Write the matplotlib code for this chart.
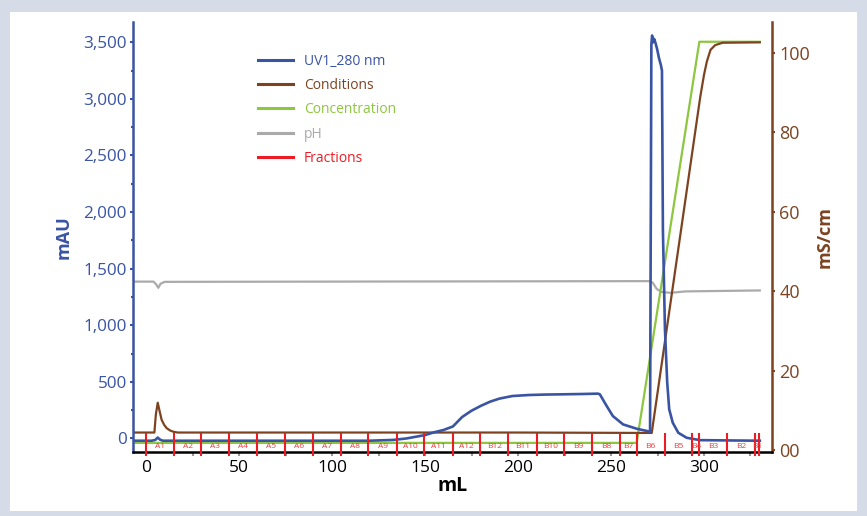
import numpy as np
import matplotlib
matplotlib.use("Agg")
import matplotlib.pyplot as plt
from matplotlib.lines import Line2D
from matplotlib.patches import Rectangle
from matplotlib.ticker import MultipleLocator, FuncFormatter, FixedLocator, FixedFormatter

plt.rcParams['font.family'] = ['Open Sans', 'DejaVu Sans']

# UV1_280 nm (mAU) vs volume (mL)
uv_ml = [-7, 3, 5, 6.3, 7.5, 9, 120, 133, 140, 150, 155, 160, 165, 170, 175, 180,
         185, 190, 197, 206, 215, 224, 235, 243, 244, 247.7, 251, 256.5, 263.8, 271.0,
         271.4, 271.7, 272.1, 272.6, 273.2, 274.0, 274.8, 275.8, 276.8, 277.4, 277.9,
         279.0, 280.2, 281.3, 283.2, 286.2, 290.7, 297.8, 330]
uv_mau = [-20, -20, -13, 8, -10, -20, -20, -13, 0, 30, 55, 75, 106, 190, 245, 288,
          325, 352, 375, 384, 388, 390, 393, 396, 390, 286, 198, 124, 86, 60,
          2000, 3480, 3560, 3500, 3530, 3490, 3440, 3360, 3300, 3250, 1850,
          966, 500, 257, 139, 50, 6, -15, -20]

# Conditions (mS/cm)
cond_ml = [-7, 4.5, 5.3, 6.3, 7.2, 8.4, 9.8, 11.1, 13, 14.7, 17, 100, 200, 264,
           271.9, 298, 300, 301.5, 303.5, 306, 310, 330]
cond_ms = [4.4, 4.4, 9, 11.9, 10, 7.6, 6.3, 5.5, 4.9, 4.6, 4.4, 4.4, 4.4, 4.3,
           4.3, 89, 94.5, 97.8, 100.8, 102, 102.6, 102.7]

# Concentration (%B)
conc_ml = [-7, 263.8, 297.5, 330]
conc_pct = [0, 0, 100, 100]

# pH
ph_ml = [-7, 4, 5.5, 6.6, 7.8, 10, 270.5, 272.5, 274.5, 277, 282, 290, 310, 330]
ph_val = [7.12, 7.12, 7.0, 6.86, 7.03, 7.11, 7.14, 7.07, 6.82, 6.69, 6.65, 6.71, 6.73, 6.75]

# Fractions
frac_ml = [0, 15, 29.7, 44.8, 59.6, 74.7, 89.6, 104.7, 119.5, 134.8, 149.6, 164.9,
           179.6, 194.8, 210, 224.9, 240, 254.8, 263.8, 279, 293.7, 297.5, 312.5,
           327.4, 329.6]
frac_names = ['A1', 'A2', 'A3', 'A4', 'A5', 'A6', 'A7', 'A8', 'A9', 'A10', 'A11', 'A12',
              'B12', 'B11', 'B10', 'B9', 'B8', 'B7', 'B6', 'B5', 'B4', 'B3', 'B2', 'B1']

right_ticks = [0, 20, 40, 60, 80, 100]
right_labels = ['00', '20', '40', '60', '80', '100']

c_uv = '#3a54a4'
c_cond = '#7d4321'
c_conc = '#8dc63f'
c_ph = '#aaaaaa'
c_frac = '#ed1c24'

W, H = 867, 516
fig = plt.figure(figsize=(W / 100, H / 100), dpi=100, facecolor='#d5dce8')
fig.patches.append(Rectangle((10 / W, 1 - 511 / H), 847 / W, 499 / H,
                             transform=fig.transFigure, facecolor='white',
                             edgecolor='none', zorder=-10))

ax = fig.add_axes([133 / W, 1 - 451.7 / H, (771.7 - 133) / W, 430 / H])
ax_r = ax.twinx()
ax_c = ax.twinx()
ax_p = ax.twinx()
ax_p.set_zorder(1)
ax_c.set_zorder(2)
ax_r.set_zorder(3)
ax.set_zorder(4)
for a in (ax, ax_r, ax_c, ax_p):
    a.patch.set_visible(False)

ax.set_xlim(-7, 336.4)
ax.set_ylim(-117, 3682)
ax_r.set_ylim(-0.43, 107.9)
ax_c.set_ylim(-2.2, 105)
ax_p.set_ylim(0, 18)

ax_p.plot(ph_ml, ph_val, color=c_ph, lw=1.6)
ax_c.plot(conc_ml, conc_pct, color=c_conc, lw=1.6)
ax_r.plot(cond_ml, cond_ms, color=c_cond, lw=1.6)
ax.plot(uv_ml, uv_mau, color=c_uv, lw=1.9)

for a in (ax_c, ax_p):
    for s in a.spines.values():
        s.set_visible(False)
    a.set_yticks([])

# fractions
trans = ax.get_xaxis_transform()
for x in frac_ml:
    ax.plot([x, x], [-0.0077, 0.042], color=c_frac, lw=1.5, transform=trans,
            clip_on=False, zorder=5)
for i, name in enumerate(frac_names):
    xm = (frac_ml[i] + frac_ml[i + 1]) / 2
    ax.text(xm, 0.0125, name, color='#f03a3a', fontsize=6, ha='center',
            va='center', transform=trans, zorder=6)

# spines
ax.spines['top'].set_visible(False)
ax.spines['right'].set_visible(False)
ax.spines['left'].set_color(c_uv)
ax.spines['left'].set_linewidth(1.8)
ax.spines['bottom'].set_color('black')
ax.spines['bottom'].set_linewidth(1.8)
for s in ('top', 'left', 'bottom'):
    ax_r.spines[s].set_visible(False)
ax_r.spines['right'].set_color(c_cond)
ax_r.spines['right'].set_linewidth(1.8)

# left axis
ax.yaxis.set_major_locator(MultipleLocator(500))
ax.yaxis.set_minor_locator(MultipleLocator(250))
ax.yaxis.set_major_formatter(FuncFormatter(lambda v, p: f'{v:,.0f}'))
ax.tick_params(axis='y', which='both', colors=c_uv, labelsize=12.3, length=2.5,
               width=1.5, pad=2)
ax.tick_params(axis='y', which='minor', length=1.5)
ax.set_ylabel('mAU', color=c_uv, fontsize=13, fontweight='bold', labelpad=8)

# right axis
ax_r.yaxis.set_major_locator(FixedLocator(right_ticks))
ax_r.yaxis.set_major_formatter(FixedFormatter(right_labels))
ax_r.tick_params(axis='y', colors=c_cond, labelsize=13, length=2.5, width=1.5, pad=3)
ax_r.set_ylabel('mS/cm', color=c_cond, fontsize=13, fontweight='bold', labelpad=4)

# bottom axis
ax.xaxis.set_major_locator(MultipleLocator(50))
ax.xaxis.set_minor_locator(MultipleLocator(25))
ax.tick_params(axis='x', which='both', color='#999999', length=3, width=1.5,
               labelcolor='black', labelsize=12.5, pad=3)
ax.set_xlabel('mL', fontsize=14, fontweight='bold', labelpad=0)

# legend
handles = [Line2D([], [], color=c_uv, lw=2.2),
           Line2D([], [], color=c_cond, lw=2.2),
           Line2D([], [], color=c_conc, lw=2.2),
           Line2D([], [], color=c_ph, lw=2.2),
           Line2D([], [], color=c_frac, lw=2.2)]
leg = ax.legend(handles, ['UV1_280 nm', 'Conditions', 'Concentration', 'pH', 'Fractions'],
                loc='upper left', bbox_to_anchor=(258 / W, 1 - 54 / H),
                bbox_transform=fig.transFigure, frameon=False, fontsize=10,
                labelcolor='linecolor', handlelength=2.5, handletextpad=0.8,
                labelspacing=0.66, borderpad=0, borderaxespad=0)

fig.savefig('out.png', dpi=100, facecolor=fig.get_facecolor())
